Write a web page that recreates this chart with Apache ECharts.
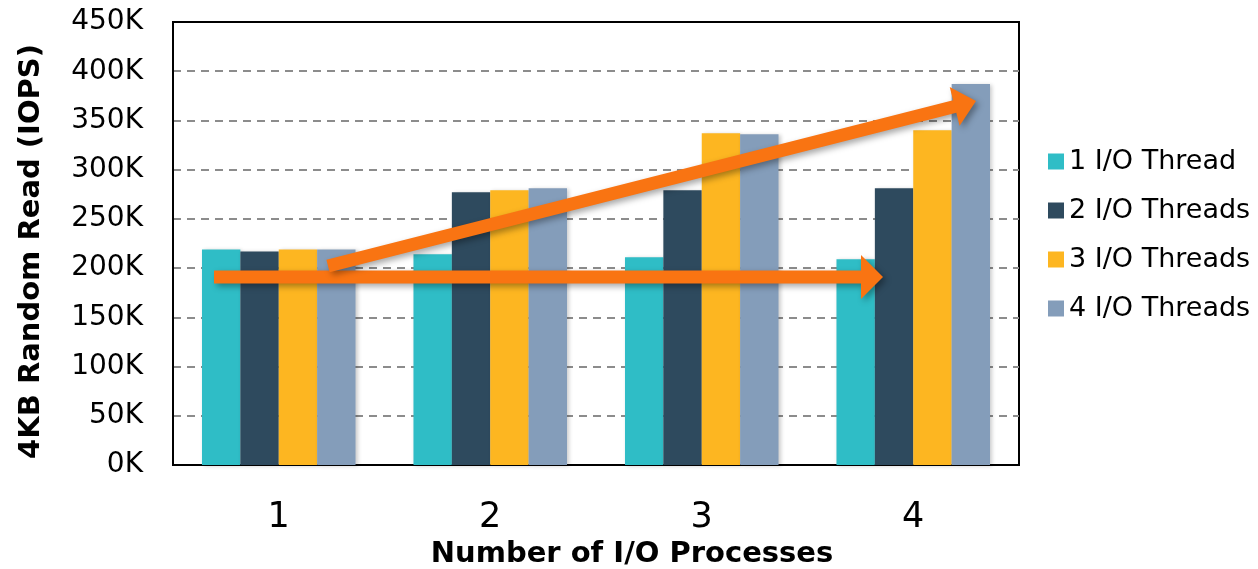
<!DOCTYPE html>
<html>
<head>
<meta charset="utf-8">
<style>
	html, body { margin: 0; padding: 0; background: #fff; }
	#chart { width: 1258px; height: 569px; }
</style>
<script src="https://cdn.jsdelivr.net/npm/echarts@6/dist/echarts.min.js"></script>
</head>
<body>
<div id="chart"></div>
<script>
	// data
	var processes = ['1', '2', '3', '4'];
	var seriesNames = ['1 I/O Thread', '2 I/O Threads', '3 I/O Threads', '4 I/O Threads'];
	var thread1 = [219000, 214000, 211000, 209000];
	var thread2 = [217000, 277000, 279000, 281000];
	var thread3 = [219000, 279000, 337000, 340000];
	var thread4 = [219000, 281000, 336000, 387000];
	var yTicks = [0, 50000, 100000, 150000, 200000, 250000, 300000, 350000, 400000, 450000];

	var colors = ['#2fbdc6', '#2e4a5e', '#fdb621', '#849dba'];
	var font = 'DejaVu Sans, Tahoma, Verdana, sans-serif';

	// polygon for a thick arrow, from (x1,y1) to tip (x2,y2)
	function arrowPoints(x1, y1, x2, y2, w, hl, hw) {
		var dx = x2 - x1, dy = y2 - y1;
		var len = Math.sqrt(dx * dx + dy * dy);
		var ux = dx / len, uy = dy / len;
		var nx = -uy, ny = ux;
		var bx = x2 - ux * hl, by = y2 - uy * hl;
		return [
			[x1 + nx * w / 2, y1 + ny * w / 2],
			[bx + nx * w / 2, by + ny * w / 2],
			[bx + nx * hw, by + ny * hw],
			[x2, y2],
			[bx - nx * hw, by - ny * hw],
			[bx - nx * w / 2, by - ny * w / 2],
			[x1 - nx * w / 2, y1 - ny * w / 2]
		];
	}

	var arrowStyle = {
		fill: '#f97412',
		shadowBlur: 6,
		shadowOffsetX: 3,
		shadowOffsetY: 3,
		shadowColor: 'rgba(0,0,0,0.35)'
	};

	var chart = echarts.init(document.getElementById('chart'));

	var allData = [thread1, thread2, thread3, thread4];
	var series = [];
	for (var i = 0; i < allData.length; i++) {
		series.push({
			name: seriesNames[i],
			type: 'bar',
			data: allData[i],
			barGap: '0%',
			barCategoryGap: '27.4%',
			itemStyle: {
				color: colors[i],
				shadowBlur: 4,
				shadowOffsetX: 2,
				shadowOffsetY: 1,
				shadowColor: 'rgba(0,0,0,0.2)'
			}
		});
	}

	var option = {
		animation: false,
		color: colors,
		textStyle: { fontFamily: font },
		grid: {
			left: 173,
			right: 239,
			top: 22,
			bottom: 104,
			outerBoundsMode: 'none',
			show: true,
			borderColor: '#000',
			borderWidth: 2,
			backgroundColor: 'transparent'
		},
		legend: {
			orient: 'vertical',
			left: 1043,
			top: 143,
			itemWidth: 16,
			itemHeight: 16,
			itemGap: 22,
			icon: 'rect',
			textStyle: { fontSize: 27, color: '#000', fontFamily: font },
			data: seriesNames
		},
		xAxis: {
			type: 'category',
			data: processes,
			name: 'Number of I/O Processes',
			nameLocation: 'middle',
			nameGap: 75,
			nameTextStyle: {
				fontSize: 29,
				fontWeight: 'bold',
				color: '#000',
				fontFamily: font,
				padding: [0, 0, 0, 72]
			},
			axisLine: { lineStyle: { color: '#000', width: 2 } },
			axisTick: { show: false },
			axisLabel: { fontSize: 35, color: '#000', margin: 35 }
		},
		yAxis: {
			type: 'value',
			min: yTicks[0],
			max: yTicks[yTicks.length - 1],
			interval: yTicks[1] - yTicks[0],
			name: '4KB Random Read (IOPS)',
			nameLocation: 'middle',
			nameGap: 127,
			nameTextStyle: {
				fontSize: 29,
				fontWeight: 'bold',
				color: '#000',
				fontFamily: font,
				padding: [0, 16, 0, 0]
			},
			axisLine: { show: true, lineStyle: { color: '#000', width: 2 } },
			axisTick: { show: false },
			axisLabel: {
				fontSize: 28,
				color: '#000',
				margin: 30,
				formatter: function (v) { return (v / 1000) + 'K'; }
			},
			splitLine: {
				showMaxLine: false,
				lineStyle: { color: '#8c8c8c', width: 2, type: [8, 6] }
			}
		},
		series: series,
		graphic: [
			{
				type: 'polygon',
				z: 100,
				shape: { points: arrowPoints(214, 277, 883, 277, 13, 22, 22) },
				style: arrowStyle
			},
			{
				type: 'polygon',
				z: 100,
				shape: { points: arrowPoints(328, 266, 976, 101, 13, 22, 20) },
				style: arrowStyle
			}
		]
	};

	chart.setOption(option);
</script>
</body>
</html>
